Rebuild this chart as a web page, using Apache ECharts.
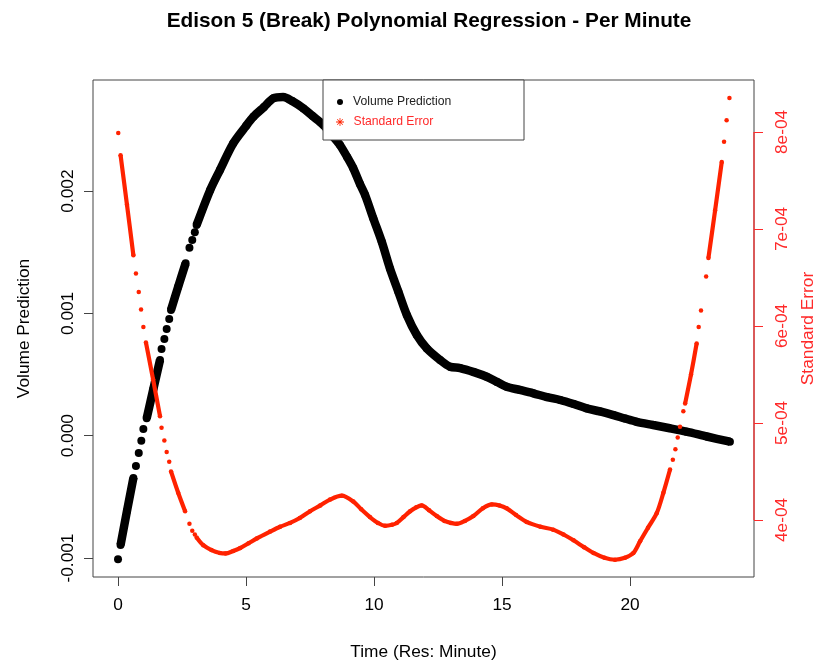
<!DOCTYPE html>
<html>
<head>
<meta charset="utf-8">
<script src="https://cdn.jsdelivr.net/npm/echarts@6/dist/echarts.min.js"></script>
<style>
  html, body { margin: 0; padding: 0; background: #fff; }
  #chart { width: 820px; height: 664px; }
</style>
</head>
<body>
<div id="chart"></div>
<script>
// ─── data (null = gap between plotted dots) ───
var xTicks = [0, 5, 10, 15, 20];
var volTicks = [-0.001, 0, 0.001, 0.002];
var seTicks = [4e-4, 5e-4, 6e-4, 7e-4, 8e-4];

var volTime = [0, 0, 0.1, 0.35, 0.6, 0.6, 0.70, 0.70, 0.81, 0.81, 0.91, 0.91, 0.99, 0.99,
  1.12, 1.38, 1.64, 1.64, 1.70, 1.70, 1.81, 1.81, 1.90, 1.90, 2.00, 2.00,
  2.07, 2.35, 2.64, 2.64, 2.79, 2.79, 2.90, 2.90, 3.00, 3.00,
  3.07, 3.6, 3.98, 4.5, 5.0, 5.29, 5.7, 6.07, 6.45, 6.8, 7.24, 7.6, 8.02, 8.35, 8.67, 8.95,
  9.19, 9.45, 9.65, 9.97, 10.3, 10.62, 10.95, 11.28, 11.67, 12.06, 12.58, 12.97, 13.36, 13.9,
  14.4, 14.8, 15.18, 15.7, 16.22, 16.75, 17.27, 17.8, 18.3, 18.83, 19.35, 19.8, 20.26, 20.9,
  21.5, 22.2, 23.0, 23.9];
var volValue = [-0.00101, null, -0.000893, -0.000616, -0.000346, null, -0.000248, null, -0.000141, null, -0.000041, null, 0.000055, null,
  0.000142, 0.000382, 0.000619, null, 0.000709, null, 0.00079, null, 0.000872, null, 0.000954, null,
  0.001028, 0.001218, 0.001409, null, 0.001537, null, 0.0016, null, 0.001663, null,
  0.001722, 0.002008, 0.002172, 0.00239, 0.002532, 0.002608, 0.002687, 0.002758, 0.002769, 0.002736, 0.002676, 0.002613, 0.00254, 0.002458, 0.002376, 0.002278,
  0.002186, 0.002058, 0.001968, 0.001777, 0.001586, 0.001368, 0.001177, 0.000987, 0.000823, 0.000714, 0.000619, 0.000564, 0.000553, 0.00052,
  0.000482, 0.00044, 0.0004, 0.000374, 0.000347, 0.000316, 0.000292, 0.000259, 0.000224, 0.000198, 0.000169, 0.000141, 0.000114, 0.0000875,
  0.000063, 0.000033, -0.0000065, -0.000049];

var seTime = [0.01, 0.01, 0.1, 0.35, 0.6, 0.6, 0.70, 0.70, 0.81, 0.81, 0.90, 0.90, 0.99, 0.99,
  1.09, 1.37, 1.64, 1.64, 1.70, 1.70, 1.81, 1.81, 1.90, 1.90, 2.00, 2.00,
  2.07, 2.35, 2.62, 2.62, 2.79, 2.79, 2.90, 2.90, 3.00, 3.00,
  3.07, 3.33, 3.65, 3.98, 4.2, 4.5, 4.77, 5.1, 5.42, 5.94, 6.33, 6.72, 7.1, 7.5, 7.9, 8.28, 8.74,
  9.19, 9.5, 9.84, 10.15, 10.43, 10.7, 10.89, 11.15, 11.41, 11.65, 11.86, 12.15, 12.45, 12.75,
  13.0, 13.23, 13.55, 13.88, 14.25, 14.6, 14.9, 15.18, 15.55, 15.96, 16.5, 17.0, 17.4, 17.79,
  18.2, 18.57, 19.0, 19.41, 19.8, 20.13, 20.39, 20.7, 21.04, 21.3, 21.56, 21.56,
  21.67, 21.67, 21.77, 21.77, 21.86, 21.86, 21.95, 21.95, 22.08, 22.08,
  22.15, 22.38, 22.6, 22.6, 22.68, 22.68, 22.77, 22.77, 22.97, 22.97,
  23.06, 23.32, 23.58, 23.58, 23.67, 23.67, 23.77, 23.77, 23.88];
var seValue = [7.99e-4, null, 7.76e-4, 7.25e-4, 6.73e-4, null, 6.54e-4, null, 6.35e-4, null, 6.17e-4, null, 5.99e-4, null,
  5.83e-4, 5.45e-4, 5.07e-4, null, 4.95e-4, null, 4.82e-4, null, 4.70e-4, null, 4.60e-4, null,
  4.50e-4, 4.28e-4, 4.09e-4, null, 3.96e-4, null, 3.89e-4, null, 3.85e-4, null,
  3.82e-4, 3.74e-4, 3.69e-4, 3.66e-4, 3.655e-4, 3.68e-4, 3.71e-4, 3.76e-4, 3.81e-4, 3.88e-4, 3.93e-4, 3.97e-4, 4.02e-4, 4.09e-4, 4.15e-4, 4.21e-4, 4.25e-4,
  4.19e-4, 4.11e-4, 4.03e-4, 3.97e-4, 3.94e-4, 3.95e-4, 3.97e-4, 4.03e-4, 4.09e-4, 4.13e-4, 4.15e-4, 4.10e-4, 4.04e-4, 3.99e-4,
  3.97e-4, 3.96e-4, 3.99e-4, 4.04e-4, 4.12e-4, 4.16e-4, 4.15e-4, 4.12e-4, 4.05e-4, 3.98e-4, 3.93e-4, 3.90e-4, 3.85e-4, 3.79e-4,
  3.72e-4, 3.66e-4, 3.61e-4, 3.59e-4, 3.61e-4, 3.66e-4, 3.78e-4, 3.92e-4, 4.07e-4, 4.28e-4, 4.52e-4, null,
  4.62e-4, null, 4.73e-4, null, 4.85e-4, null, 4.96e-4, null, 5.12e-4, null,
  5.20e-4, 5.50e-4, 5.82e-4, null, 5.99e-4, null, 6.16e-4, null, 6.51e-4, null,
  6.70e-4, 7.19e-4, 7.69e-4, null, 7.90e-4, null, 8.12e-4, null, 8.35e-4];

function pairs(ts, vs) {
  return ts.map(function (t, i) { return [t, vs[i] === null ? '-' : vs[i]]; });
}

var FONT = 'Liberation Sans, Arial, Helvetica, sans-serif';
var RED = '#ff2200';
var RED_TEXT = '#ff2a2a';
var BOX = '#444';

// asterisk (R pch 8) for the legend
var ASTERISK = 'path://M4.5,0L5.5,0L5.5,10L4.5,10Z M0,4.5L10,4.5L10,5.5L0,5.5Z ' +
  'M1.85,1.15L8.85,8.15L8.15,8.85L1.15,1.85Z M8.15,1.15L8.85,1.85L1.85,8.85L1.15,8.15Z';

var chart = echarts.init(document.getElementById('chart'), null, { renderer: 'canvas' });

chart.setOption({
  animation: false,
  backgroundColor: '#fff',
  textStyle: { fontFamily: FONT },
  title: {
    text: 'Edison 5 (Break) Polynomial Regression - Per Minute',
    left: 424, top: 6, textAlign: 'center',
    textStyle: { fontFamily: FONT, fontSize: 20.8, fontWeight: 'bold', color: '#000' }
  },
  grid: {
    left: 93, right: 66, top: 80, bottom: 87,
    outerBoundsMode: 'none',
    show: true, borderColor: BOX, borderWidth: 1, backgroundColor: 'transparent'
  },
  legend: [{
    data: ['Volume Prediction'],
    left: 337, top: 96, padding: 0, z: 20,
    icon: 'circle', itemWidth: 16, itemHeight: 6,
    textStyle: { fontFamily: FONT, fontSize: 12.2, color: '#222' }
  }, {
    data: ['Standard Error'],
    left: 336, top: 116, padding: 0, z: 20,
    icon: ASTERISK, itemWidth: 17, itemHeight: 8,
    textStyle: { fontFamily: FONT, fontSize: 12.2, color: RED_TEXT }
  }],
  xAxis: {
    type: 'value', min: -0.977, max: 24.84,
    name: 'Time (Res: Minute)', nameLocation: 'middle', nameGap: 67,
    nameTextStyle: { fontFamily: FONT, fontSize: 17.3, color: '#000' },
    axisLine: { show: false, onZero: false },
    axisTick: { show: true, length: 9, customValues: xTicks, lineStyle: { color: BOX } },
    axisLabel: { customValues: xTicks, margin: 20, fontFamily: FONT, fontSize: 17.3, color: '#000' },
    splitLine: { show: false }
  },
  yAxis: [{
    type: 'value', min: -0.001155, max: 0.002908, position: 'left',
    name: 'Volume Prediction', nameLocation: 'middle', nameGap: 60,
    nameTextStyle: { fontFamily: FONT, fontSize: 17.3, color: '#000' },
    axisLine: { show: false, onZero: false },
    axisTick: { show: true, length: 9, customValues: volTicks, lineStyle: { color: BOX } },
    axisLabel: {
      customValues: volTicks, rotate: 90, margin: 16,
      fontFamily: FONT, fontSize: 17.3, color: '#000',
      formatter: function (v) { return v.toFixed(3); }
    },
    splitLine: { show: false }
  }, {
    type: 'value', min: 3.412e-4, max: 8.536e-4, position: 'right',
    name: 'Standard Error', nameLocation: 'middle', nameGap: 46,
    nameTextStyle: { fontFamily: FONT, fontSize: 17.3, color: RED_TEXT },
    axisLine: { show: false, onZero: false },
    axisTick: { show: true, length: 9, customValues: seTicks, lineStyle: { color: RED_TEXT } },
    axisLabel: {
      customValues: seTicks, rotate: 90, margin: 20,
      fontFamily: FONT, fontSize: 17.3, color: RED_TEXT,
      formatter: function (v) { return Math.round(v * 1e4) + 'e-04'; }
    },
    splitLine: { show: false }
  }],
  series: [{
    name: 'Volume Prediction',
    type: 'line', yAxisIndex: 0,
    data: pairs(volTime, volValue),
    connectNulls: false, smooth: 0.3,
    symbol: 'circle', symbolSize: 8, showSymbol: true,
    itemStyle: { color: '#000' },
    lineStyle: { color: '#000', width: 8.5 },
    z: 3
  }, {
    name: 'Standard Error',
    type: 'line', yAxisIndex: 1,
    data: pairs(seTime, seValue),
    connectNulls: false, smooth: 0.3,
    symbol: 'circle', symbolSize: 4.5, showSymbol: true,
    itemStyle: { color: RED },
    lineStyle: { color: RED, width: 4.2 },
    z: 4
  }]
});

// legend box and the red right-axis line (from first to last tick), placed through the axes
var boxTop = chart.convertToPixel({ yAxisIndex: 0 }, 0.002908);
var axX = chart.convertToPixel({ xAxisIndex: 0 }, 24.84);
var seLo = chart.convertToPixel({ yAxisIndex: 1 }, seTicks[0]);
var seHi = chart.convertToPixel({ yAxisIndex: 1 }, seTicks[seTicks.length - 1]);
chart.setOption({
  graphic: [{
    type: 'rect', z: 15,
    shape: { x: 323, y: boxTop, width: 201, height: 60 },
    style: { fill: '#fff', stroke: BOX, lineWidth: 1 }
  }, {
    type: 'line', z: 15,
    shape: { x1: axX, y1: seLo, x2: axX, y2: seHi },
    style: { stroke: RED_TEXT, lineWidth: 1.2 }
  }]
});
</script>
</body>
</html>
